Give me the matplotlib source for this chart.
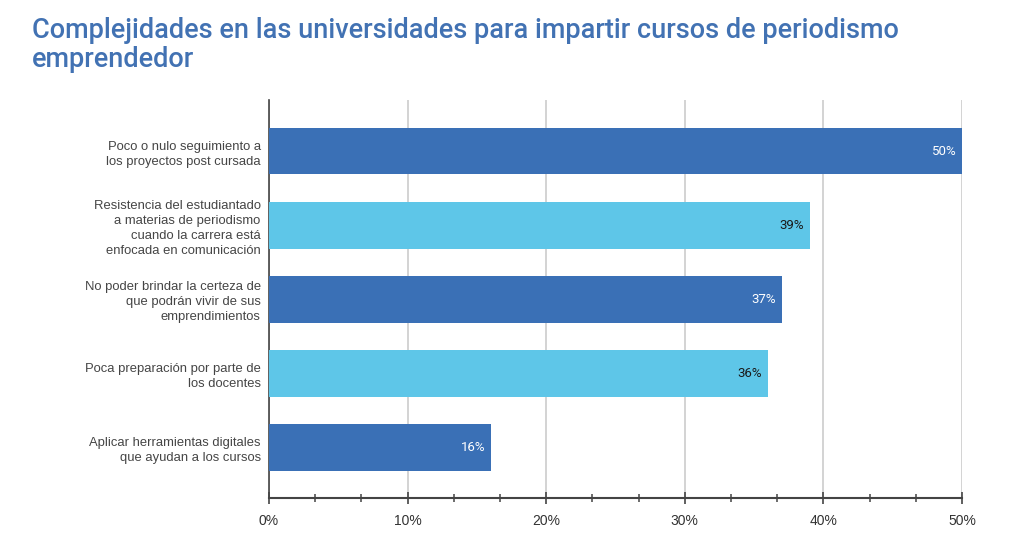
import matplotlib
matplotlib.use("Agg")
import matplotlib.pyplot as plt
from matplotlib.ticker import MultipleLocator, FuncFormatter

title_lines = ["Complejidades en las universidades para impartir cursos de periodismo",
               "emprendedor"]
categories = [
    "Poco o nulo seguimiento a\nlos proyectos post cursada",
    "Resistencia del estudiantado\na materias de periodismo\ncuando la carrera está\nenfocada en comunicación",
    "No poder brindar la certeza de\nque podrán vivir de sus\nemprendimientos",
    "Poca preparación por parte de\nlos docentes",
    "Aplicar herramientas digitales\nque ayudan a los cursos",
]
values = [50, 39, 37, 36, 16]
labels = ["50%", "39%", "37%", "36%", "16%"]
dark = "#3a70b6"
light = "#5ec6e8"
colors = [dark, light, dark, light, dark]
label_colors = ["white", "#1a1a1a", "white", "#1a1a1a", "white"]

fig = plt.figure(figsize=(10.24, 5.41), dpi=100)
ax = fig.add_axes([269/1024, 1-498/541, (962-269)/1024, (498-100)/541])

pos = list(range(len(values)))
bars = ax.barh(pos, values, height=0.63, color=colors, zorder=3)
ax.set_ylim(4.68, -0.69)
ax.set_xlim(0, 50)

ax.set_yticks(pos)
ax.set_yticklabels(categories, fontsize=9.4, color="#454545",
                   family="Liberation Sans", linespacing=1.32)
ax.tick_params(axis="y", length=0, pad=6)

ax.xaxis.set_major_locator(MultipleLocator(10))
ax.xaxis.set_minor_locator(MultipleLocator(10/3))
ax.xaxis.set_major_formatter(FuncFormatter(lambda v, p: f"{v:.0f}%"))
ax.tick_params(axis="x", which="major", direction="inout", length=9, width=1.2,
               color="#444444", labelsize=10, labelcolor="#333333", pad=7)
ax.tick_params(axis="x", which="minor", direction="inout", length=6, width=1.1,
               color="#444444")
for t in ax.get_xticklabels():
    t.set_family("Liberation Sans")

ax.grid(axis="x", color="#cccccc", linewidth=1.2, zorder=0)
for s in ["top", "right"]:
    ax.spines[s].set_visible(False)
ax.spines["left"].set_color("#444444")
ax.spines["left"].set_linewidth(1.2)
ax.spines["bottom"].set_color("#444444")
ax.spines["bottom"].set_linewidth(1.5)

for b, lab, c in zip(bars, labels, label_colors):
    ax.annotate(lab, (b.get_width(), b.get_y() + b.get_height()/2),
                xytext=(-4, 0), textcoords="offset points",
                ha="right", va="center", fontsize=9.5, color=c, family="Roboto",
                zorder=4)

for i, line in enumerate(title_lines):
    fig.text(32/1024, 1-(38 + 29*i)/541, line,
             fontsize=19.5, color="#4272b3", family="Roboto", fontweight="medium",
             ha="left", va="baseline")

fig.savefig("out.png", dpi=100)
